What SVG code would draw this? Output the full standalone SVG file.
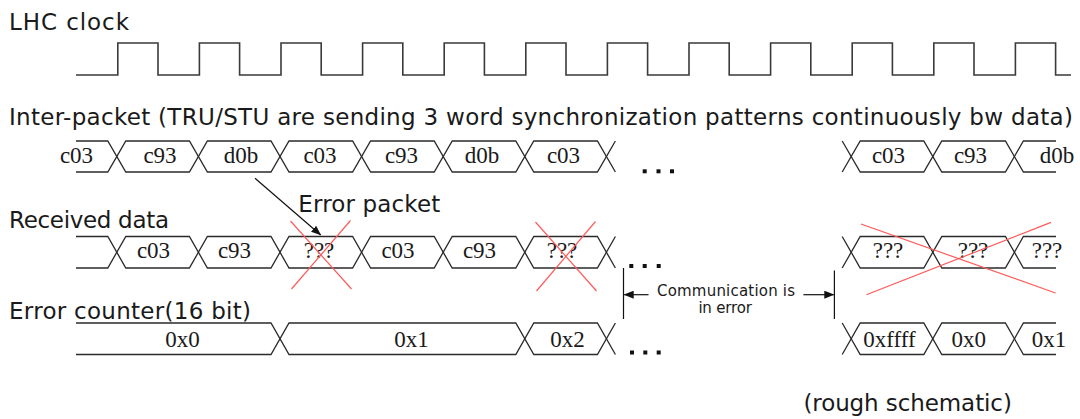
<svg xmlns="http://www.w3.org/2000/svg" width="1080" height="419" viewBox="0 0 1080 419">
<defs>
<style>
.t{font-family:"DejaVu Sans","Liberation Sans",sans-serif;font-size:23px;fill:#1a1a1a}
.s{font-family:"DejaVu Sans","Liberation Sans",sans-serif;font-size:15px;fill:#1a1a1a}
.v{font-family:"Liberation Serif","DejaVu Serif",serif;font-size:23px;fill:#1a1a1a;text-anchor:middle}
.w{fill:none;stroke:#2a2a2a;stroke-width:1.3;stroke-linejoin:miter}
.clk{fill:none;stroke:#3a3a3a;stroke-width:1.6}
.x{stroke:#ff5a5a;stroke-width:1.2;fill:none}
.c{stroke:#111;stroke-width:1.2;fill:none}
.d{fill:#111}
</style>
<marker id="ah" markerWidth="10" markerHeight="8" refX="9.5" refY="4" orient="auto" markerUnits="userSpaceOnUse">
<path d="M0,0 L10,4 L0,8 Z" fill="#111"/>
</marker>
</defs>
<rect width="1080" height="419" fill="#fff"/>

<g id="clock">
<text class="t" x="9" y="30" textLength="120">LHC clock</text>
<path class="clk" d="M76,75 H117.8 V43 H158 V75 H199.4 V43 H239.6 V75 H281 V43 H321.2 V75 H362.6 V43 H402.8 V75 H444.2 V43 H484.4 V75 H525.8 V43 H566 V75 H607.4 V43 H647.6 V75 H689 V43 H729.2 V75 H770.6 V43 H810.8 V75 H852.2 V43 H892.4 V75 H933.8 V43 H974 V75 H1015.4 V43 H1055.6 V75 H1071"/>
</g>

<g id="inter-packet">
<text class="t" x="9" y="124.5" textLength="1064">Inter-packet (TRU/STU are sending 3 word synchronization patterns continuously bw data)</text>
<path class="w" d="M76,141 H107.8 L125.8,172 H189.4 L207.4,141 H271 L289,172 H352.6 L370.6,141 H434.2 L452.2,172 H515.8 L533.8,141 H597.4 L615.4,172"/>
<path class="w" d="M76,172 H107.8 L125.8,141 H189.4 L207.4,172 H271 L289,141 H352.6 L370.6,172 H434.2 L452.2,141 H515.8 L533.8,172 H597.4 L615.4,141"/>
<path class="w" d="M842.2,141 L860.2,172 H923.8 L941.8,141 H1005.4 L1023.4,172 H1056"/>
<path class="w" d="M842.2,172 L860.2,141 H923.8 L941.8,172 H1005.4 L1023.4,141 H1056"/>
<text class="v" x="76.5" y="163.3">c03</text>
<text class="v" x="160" y="163.3">c93</text>
<text class="v" x="241" y="163.3">d0b</text>
<text class="v" x="320" y="163.3">c03</text>
<text class="v" x="401.5" y="163.3">c93</text>
<text class="v" x="482" y="163.3">d0b</text>
<text class="v" x="563.5" y="163.3">c03</text>
<text class="v" x="888.5" y="163.3">c03</text>
<text class="v" x="970.5" y="163.3">c93</text>
<text class="v" x="1057" y="163.3">d0b</text>
<rect class="d" x="642.7" y="169.3" width="4" height="4"/>
<rect class="d" x="656.5" y="169.3" width="4" height="4"/>
<rect class="d" x="670" y="169.3" width="4" height="4"/>
</g>

<g id="received-data">
<text class="t" x="9" y="228" textLength="160">Received data</text>
<path class="w" d="M76,236.5 H107.8 L125.8,268 H189.4 L207.4,236.5 H271 L289,268 H352.6 L370.6,236.5 H434.2 L452.2,268 H515.8 L533.8,236.5 H597.4 L615.4,268"/>
<path class="w" d="M76,268 H107.8 L125.8,236.5 H189.4 L207.4,268 H271 L289,236.5 H352.6 L370.6,268 H434.2 L452.2,236.5 H515.8 L533.8,268 H597.4 L615.4,236.5"/>
<path class="w" d="M842.2,236.5 L860.2,268 H923.8 L941.8,236.5 H1005.4 L1023.4,268 H1056"/>
<path class="w" d="M842.2,268 L860.2,236.5 H923.8 L941.8,268 H1005.4 L1023.4,236.5 H1056"/>
<text class="v" x="153.5" y="258.3">c03</text>
<text class="v" x="234.5" y="258.3">c93</text>
<text class="v" x="319" y="258.3">???</text>
<text class="v" x="398" y="258.3">c03</text>
<text class="v" x="479.5" y="258.3">c93</text>
<text class="v" x="562" y="258.3">???</text>
<text class="v" x="888" y="258.3">???</text>
<text class="v" x="973" y="258.3">???</text>
<text class="v" x="1047" y="258.3">???</text>
<rect class="d" x="629.3" y="264" width="4" height="4"/>
<rect class="d" x="642.7" y="264" width="4" height="4"/>
<rect class="d" x="656.7" y="264" width="4" height="4"/>
<line class="x" x1="290.5" y1="221" x2="351.5" y2="289"/>
<line class="x" x1="350.5" y1="220.5" x2="291.5" y2="289"/>
<line class="x" x1="535.5" y1="222" x2="596.5" y2="291"/>
<line class="x" x1="595.5" y1="221.5" x2="536.5" y2="291"/>
<line class="x" x1="861" y1="224" x2="1055.5" y2="293"/>
<line class="x" x1="866.4" y1="294.7" x2="1051" y2="222.4"/>
</g>

<g id="error-counter">
<text class="t" x="9" y="318.5" textLength="242">Error counter(16 bit)</text>
<path class="w" d="M76,323 H271 L289,354.5 H515.8 L533.8,323 H597.4 L615.4,354.5"/>
<path class="w" d="M76,354.5 H271 L289,323 H515.8 L533.8,354.5 H597.4 L615.4,323"/>
<path class="w" d="M842.2,323 L860.2,354.5 H923.8 L941.8,323 H1005.4 L1023.4,354.5 H1056"/>
<path class="w" d="M842.2,354.5 L860.2,323 H923.8 L941.8,354.5 H1005.4 L1023.4,323 H1056"/>
<text class="v" x="182.5" y="347">0x0</text>
<text class="v" x="411.5" y="347">0x1</text>
<text class="v" x="567.6" y="347">0x2</text>
<text class="v" x="889.5" y="347">0xffff</text>
<text class="v" x="968.8" y="347">0x0</text>
<text class="v" x="1049" y="347">0x1</text>
<rect class="d" x="630" y="350.5" width="4" height="4"/>
<rect class="d" x="643.3" y="350.5" width="4" height="4"/>
<rect class="d" x="656.7" y="350.5" width="4" height="4"/>
</g>

<g id="error-annotation">
<text class="t" x="298.3" y="211.7" textLength="142">Error packet</text>
</g>

<g id="communication-error">
<line class="c" x1="623.5" y1="268" x2="623.5" y2="319"/>
<line class="c" x1="834.4" y1="270.6" x2="834.4" y2="319"/>
<text class="s" x="657" y="296" textLength="138">Communication is</text>
<text class="s" x="698.4" y="313.4" textLength="53.4">in error</text>
</g>

<g id="connectors">
<line class="c" x1="255" y1="178.3" x2="320.7" y2="235" stroke-width="1.1" marker-end="url(#ah)"/>
<line class="c" x1="648.5" y1="294.7" x2="624.2" y2="294.7" marker-end="url(#ah)"/>
<line class="c" x1="803.4" y1="294.7" x2="833.8" y2="294.7" marker-end="url(#ah)"/>
</g>

<text class="t" x="803.4" y="411" textLength="208.5">(rough schematic)</text>
</svg>
